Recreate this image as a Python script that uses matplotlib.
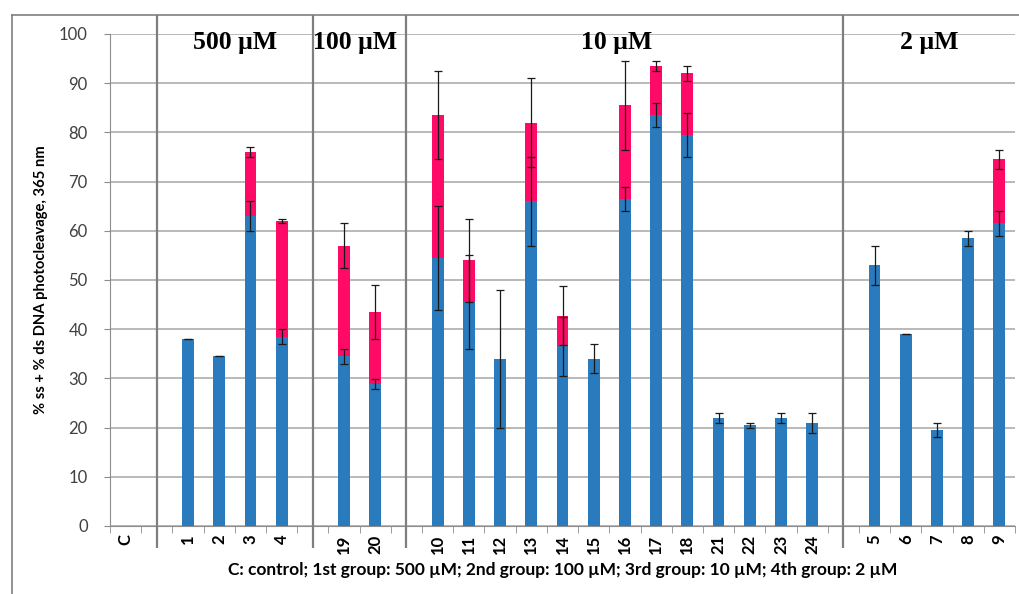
import numpy as np
import matplotlib
matplotlib.use("Agg")
import matplotlib.pyplot as plt
from matplotlib.lines import Line2D

# slot labels ('' = empty slot that holds a group divider)
labels = ["C", "", "1", "2", "3", "4", "", "19", "20", "",
          "10", "11", "12", "13", "14", "15", "16", "17", "18",
          "21", "22", "23", "24", "", "5", "6", "7", "8", "9"]
# % ss (blue) and its error
ss = [0, 0, 38, 34.5, 63, 38.5, 0, 34.5, 28.8, 0,
      54.5, 45.5, 34, 66, 36.5, 34, 66.5, 83.5, 79.5,
      22, 20.5, 22, 21, 0, 53, 39, 19.5, 58.5, 61.5]
ss_err = [0, 0, 0, 0, 3, 1.5, 0, 1.5, 1, 0,
          10.5, 9.5, 14, 9, 6, 3, 2.5, 2.5, 4.5,
          1, 0.5, 1, 2, 0, 4, 0, 1.5, 1.5, 2.5]
# total % ss + % ds (top of pink) and its error, 0 = no ds part
total = [0, 0, 0, 0, 76, 62, 0, 57, 43.5, 0,
         83.5, 54, 0, 82, 42.7, 0, 85.5, 93.5, 92,
         0, 0, 0, 0, 0, 0, 0, 0, 0, 74.5]
total_err = [0, 0, 0, 0, 1, 0.5, 0, 4.5, 5.5, 0,
             9, 8.5, 0, 9, 6, 0, 9, 1, 1.5,
             0, 0, 0, 0, 0, 0, 0, 0, 0, 2]
groups = ["500 \u03bcM", "100 \u03bcM", "10 \u03bcM", "2 \u03bcM"]

blue = "#2a7bbd"
pink = "#ff0a66"
grey = "#8c8c8c"

plt.rcParams["font.family"] = ["Lato", "DejaVu Sans"]

x = np.arange(len(labels))
ss = np.array(ss)
total = np.array(total)
ds = np.where(total > 0, total - ss, 0)

fig = plt.figure(figsize=(10.2, 5.94), dpi=100)
ax = fig.add_axes([110 / 1020, 1 - 526 / 594, 905 / 1020, 492 / 594])

w = 0.38
has_ss = ss > 0
has_ds = total > 0
ax.bar(x[has_ss], ss[has_ss], width=w, color=blue, zorder=3)
ax.bar(x[has_ds], ds[has_ds], bottom=ss[has_ds], width=w, color=pink, zorder=3)
ax.errorbar(x[has_ss], ss[has_ss], yerr=np.array(ss_err)[has_ss], fmt="none",
            ecolor="#1a1a1a", elinewidth=0.9, capsize=3, capthick=0.9, zorder=4)
ax.errorbar(x[has_ds], total[has_ds], yerr=np.array(total_err)[has_ds], fmt="none",
            ecolor="#1a1a1a", elinewidth=0.9, capsize=3, capthick=0.9, zorder=4)

ax.set_xlim(-0.5, len(labels) - 0.5)
ax.set_ylim(0, 100)
ax.set_yticks(np.arange(0, 101, 10))
ax.grid(axis="y", color="#a6a6a6", lw=1.1, zorder=0)
ax.tick_params(axis="y", labelsize=12, labelcolor="#404040", color=grey, length=4, pad=12)

ax.set_xticks(x)
ax.set_xticklabels(labels, rotation=90, fontsize=12, fontweight="bold")
ax.tick_params(axis="x", length=0, pad=6)
ax.set_xticks(np.arange(-0.5, len(labels), 1), minor=True)
ax.tick_params(axis="x", which="minor", length=5, color=grey)

for s in ["top", "right"]:
    ax.spines[s].set_visible(False)
ax.spines["left"].set_color(grey)
ax.spines["bottom"].set_color(grey)

# group dividers in the empty slots
div = [i for i, l in enumerate(labels) if l == ""]
ax.vlines(div, -4.4, 103.9, color="#7f7f7f", lw=1.6, clip_on=False, zorder=5)
edges = div + [len(labels) - 0.5]
shift = [0, -0.15, -0.25, 0]
for k, g in enumerate(groups):
    cx = (edges[k] + edges[k + 1]) / 2 + shift[k]
    ax.text(cx, 98.2, g, ha="center", va="center", fontsize=18.5, fontweight="bold",
            family=["Liberation Serif", "DejaVu Serif"])

ax.set_ylabel("% ss + % ds DNA photocleavage, 365 nm", fontsize=10.6, fontweight="bold")
ax.yaxis.set_label_coords(-62 / 905, 0.5)
ax.set_xlabel("C: control; 1st group: 500 \u00b5M; 2nd group: 100 \u00b5M; "
              "3rd group: 10 \u00b5M; 4th group: 2 \u00b5M",
              fontsize=12.5, fontweight="bold", labelpad=6)

# outer frame (left and top edges)
fig.add_artist(Line2D([12 / 1020, 12 / 1020], [0, 1 - 15 / 594], color="#7f7f7f", lw=1.2))
fig.add_artist(Line2D([12 / 1020, 1], [1 - 15 / 594, 1 - 15 / 594], color="#7f7f7f", lw=1.2))

fig.savefig("out.png", dpi=100)
